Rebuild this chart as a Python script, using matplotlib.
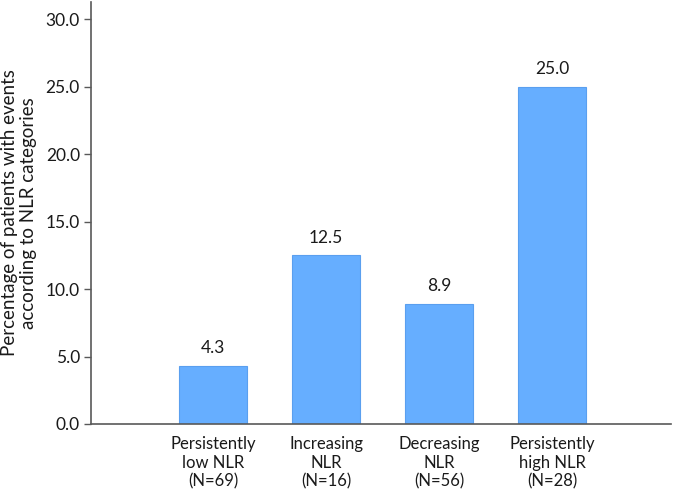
import matplotlib
matplotlib.use("Agg")
import matplotlib.pyplot as plt
import numpy as np

plt.rcParams['font.family'] = ['Lato', 'DejaVu Sans']

# data
categories = ["Persistently\nlow NLR\n(N=69)", "Increasing\nNLR\n(N=16)",
              "Decreasing\nNLR\n(N=56)", "Persistently\nhigh NLR\n(N=28)"]
values = [4.3, 12.5, 8.9, 25.0]
yticks = [0, 5, 10, 15, 20, 25, 30]

fig = plt.figure(figsize=(6.85, 4.9), dpi=100)
ax = fig.add_axes([0.1328, 0.1347, 0.8468, 0.8612])

x = np.arange(len(categories))
bars = ax.bar(x, values, width=0.6, color="#66AEFF", edgecolor="#5A9FEF", linewidth=0.8)

for xi, v in zip(x, values):
    ax.text(xi, v + 0.72, f"{v:.1f}", ha="center", va="bottom", fontsize=12.5, color="#1a1a1a")

ax.set_xlim(-1.08, 4.05)
ax.set_ylim(0, 31.26)
ax.set_yticks(yticks)
ax.set_yticklabels([f"{t:.1f}" for t in yticks], fontsize=12.5, color="#1a1a1a")
ax.set_xticks(x)
ax.set_xticklabels(categories, fontsize=12, color="#1a1a1a", linespacing=1.2)
ax.tick_params(axis="x", length=0, pad=9)
ax.tick_params(axis="y", length=5, width=1, color="#595959", pad=3)

for s in ["top", "right"]:
    ax.spines[s].set_visible(False)
for s in ["left", "bottom"]:
    ax.spines[s].set_color("#595959")
    ax.spines[s].set_linewidth(1.2)

ax.set_ylabel("Percentage of patients with events\naccording to NLR categories",
              fontsize=13.5, color="#1a1a1a", linespacing=1.15, labelpad=6)

fig.savefig("out.png", dpi=100)
